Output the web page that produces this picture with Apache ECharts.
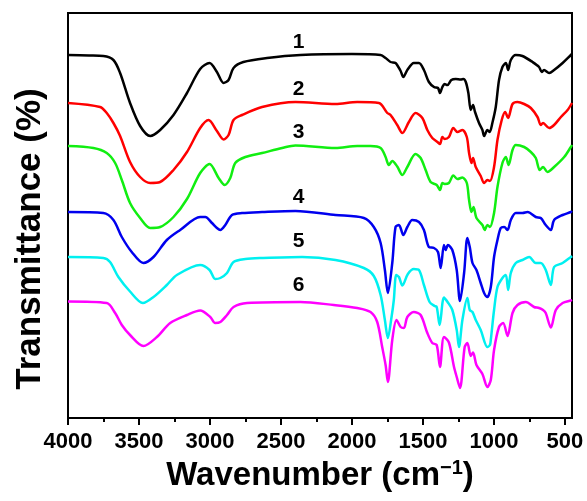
<!DOCTYPE html>
<html><head><meta charset="utf-8">
<script src="https://cdn.jsdelivr.net/npm/echarts@6/dist/echarts.min.js"></script>
<style>html,body{margin:0;padding:0;background:#fff}#c{width:587px;height:501px}</style>
</head><body><div id="c"></div>
<script>
// Tick labels (wavenumber, cm^-1)
const majorTicks = [4000, 3500, 3000, 2500, 2000, 1500, 1000, 500];
const minorTicks = [3750, 3250, 2750, 2250, 1750, 1250, 750];

const curveNames = ['1', '2', '3', '4', '5', '6'];
const curveColors = ['#000000', '#ff0000', '#11ee11', '#0000ee', '#00f0f0', '#ff00ff'];

// [wavenumber, transmittance (a.u., offset)]
const curve1 = [[4000,363],[3852,362.5],[3751,362],[3680,358],[3633,345],[3563,315],[3492,292],[3421,282],[3351,288],[3257,303],[3162,325],[3069,349],[3003,355],[2951,346],[2904,335],[2869,338],[2834,350],[2765,356],[2598,360],[2363,363],[2000,364],[1798,363],[1763,360],[1728,356],[1693,355],[1657,347],[1638,341],[1610,348],[1564,355],[1528,355],[1493,348],[1458,336],[1422,331],[1394,330],[1380,325],[1363,331],[1347,334],[1328,333],[1300,338],[1269,339],[1234,338.5],[1215,339],[1198,336],[1180,325],[1163,308],[1147,313],[1133,306],[1105,295],[1081,288],[1069,282],[1046,288],[1030,286],[1011,295],[987,311],[964,338],[940,351],[916,355],[900,348],[881,358],[846,363],[799,362],[728,356],[682,351],[663,346],[647,348],[611,345],[576,348],[516,355],[458,363],[450,364]];
const curve2 = [[4000,315],[3774,311],[3727,305],[3680,295],[3633,282],[3563,256],[3492,241],[3421,235],[3351,236],[3257,248],[3162,266],[3069,290],[3010,298],[2951,287],[2904,278.5],[2869,283],[2834,298],[2774,303],[2633,311],[2398,316],[2116,314],[1963,316],[1810,315],[1751,305],[1728,303],[1681,293],[1645,285],[1599,296],[1552,305],[1504,300],[1469,288],[1434,280],[1398,276],[1380,274],[1363,281],[1347,279],[1317,281],[1286,290],[1257,286],[1222,288],[1191,281],[1175,265],[1158,255],[1147,260],[1128,251],[1093,242],[1069,235],[1046,238],[1028,237],[999,251],[975,278],[945,298],[921,306],[900,300],[869,314],[834,316],[787,314],[740,310],[693,301],[670,293],[654,295],[611,290],[576,293],[528,301],[481,308],[450,315]];
const curve3 = [[4000,272],[3821,270],[3727,265],[3668,255],[3621,238],[3563,215],[3492,200],[3421,190],[3351,191],[3257,201],[3162,219],[3069,245],[3003,254],[2939,240],[2897,233],[2857,240],[2822,255],[2751,261],[2633,265],[2492,270],[2398,272.5],[2116,270],[1963,272],[1869,272],[1798,270],[1763,261],[1740,253],[1716,257],[1681,251.5],[1645,243],[1610,251],[1552,264],[1516,260],[1481,248],[1446,236],[1403,233],[1380,228],[1363,235],[1347,234],[1317,235],[1286,242.5],[1257,239],[1222,240.5],[1191,235],[1175,218],[1158,206],[1144,211],[1123,200],[1081,193],[1065,188],[1046,193],[1028,191],[999,205],[975,231],[940,255],[916,261],[897,253],[869,268],[846,273],[787,271],[740,266],[705,260],[677,248],[654,251],[623,246],[576,251],[505,261],[458,271],[450,273]];
const curve4 = [[4000,206],[3751,205],[3680,198],[3621,181],[3551,166],[3469,155],[3398,161],[3304,178],[3210,188],[3069,201],[3033,201],[2986,195],[2951,190],[2927,188],[2892,193],[2845,203],[2774,205],[2633,206],[2398,207],[2116,203],[1916,200],[1846,191],[1798,175],[1768,148],[1747,125],[1716,155],[1693,191],[1669,193],[1638,183],[1610,191],[1575,198],[1528,196],[1493,188],[1458,171],[1422,170],[1394,166],[1375,150],[1352,173],[1340,168],[1324,173],[1293,168],[1262,148],[1239,117],[1210,145],[1187,180],[1170,171],[1151,155],[1123,148],[1093,135],[1069,125],[1046,121],[1022,131],[999,161],[975,178],[952,190],[928,191],[904,188],[881,198],[846,205],[799,205],[763,206],[705,201],[670,200],[635,193],[599,188],[576,198],[516,203],[458,206],[450,207]];
const curve5 = [[4000,161],[3751,160],[3704,156],[3645,141],[3563,126.5],[3473,115],[3398,121],[3304,133],[3233,143],[3069,153],[3003,148],[2963,139],[2927,140],[2880,145],[2834,156],[2751,159],[2633,160],[2351,161],[2116,158],[1916,150],[1846,142],[1798,123],[1768,98],[1747,80],[1721,101],[1705,118],[1688,143],[1669,141],[1645,132.5],[1606,144],[1564,149],[1528,148],[1493,133],[1453,116],[1418,112],[1403,111],[1382,93],[1352,120.5],[1324,115.5],[1293,108],[1262,88],[1246,71],[1222,98],[1187,120],[1170,108],[1151,106],[1128,98],[1093,88],[1046,71],[1028,73],[1022,78],[999,108],[975,131],[940,140],[916,143],[900,128],[881,145],[846,155],[799,158],[752,161],[705,155],[670,155],[635,148],[599,133],[576,151],[516,155],[458,161],[450,162]];
const curve6 = [[4000,116.5],[3727,115],[3668,105],[3621,93],[3563,83],[3469,72],[3374,81],[3280,95],[3162,103],[3069,107.5],[2998,101],[2963,95],[2927,96],[2880,103],[2834,111],[2739,115],[2363,116],[2128,113],[1963,110],[1869,106],[1822,96],[1787,71],[1763,53],[1747,36],[1716,78],[1686,98],[1657,91],[1634,90],[1610,101],[1564,106],[1516,103],[1469,85],[1434,75],[1403,73],[1380,51],[1352,81],[1317,75.5],[1281,51],[1262,41],[1239,30],[1206,71],[1187,75],[1163,62],[1147,65.5],[1123,53],[1081,44],[1046,31],[1022,38],[999,68],[964,91],[935,95],[904,82],[869,105],[834,113],[775,116],[717,111],[682,110],[654,108],[635,105],[599,90.5],[564,108],[516,115],[458,117.5],[450,118]];
const curves = [curve1, curve2, curve3, curve4, curve5, curve6];

// curve number labels
const labelWavenumber = 2375;
const labelLevels = [376, 329, 285.5, 220.5, 176.5, 132.5];

const FONT = "'Liberation Sans', Arial, Helvetica, sans-serif";
const chart = echarts.init(document.getElementById('c'), null, {renderer: 'canvas'});

const series = curves.map((d, i) => ({
  type: 'line', name: curveNames[i], data: d, showSymbol: false, symbol: 'none',
  smooth: 0.3,
  lineStyle: {color: curveColors[i], width: 2.5}, itemStyle: {color: curveColors[i]},
  z: 10 - i, animation: false
}));
series.push({
  type: 'scatter', symbolSize: 0, silent: true, animation: false, z: 20,
  itemStyle: {opacity: 1},
  data: labelLevels.map((v, i) => [labelWavenumber, v, curveNames[i]]),
  label: {show: true, position: 'inside', formatter: p => p.data[2], opacity: 1,
    fontFamily: FONT, fontWeight: 'bold', fontSize: 21, color: '#000', textBorderWidth: 0}
});

const xCommon = {type: 'value', min: 450, max: 4000, inverse: true, gridIndex: 0,
  splitLine: {show: false}};

chart.setOption({
  animation: false,
  backgroundColor: '#fff',
  grid: {left: 68, right: 15, top: 13, bottom: 83, show: true, borderColor: '#000', borderWidth: 2, backgroundColor: 'transparent'},
  xAxis: [
    Object.assign({}, xCommon, {
      name: 'Wavenumber (cm{sup|\u22121})', nameLocation: 'middle', nameGap: 40,
      nameTextStyle: {fontFamily: FONT, fontWeight: 'bold', fontSize: 33, color: '#000',
        rich: {sup: {fontFamily: FONT, fontWeight: 'bold', fontSize: 20, color: '#000', padding: [0, 0, 16, 0]}}},
      axisLine: {show: true, onZero: false, lineStyle: {color: '#000', width: 2}},
      axisTick: {show: true, inside: false, length: 7, lineStyle: {color: '#000', width: 2}, customValues: majorTicks},
      axisLabel: {show: true, margin: 13, fontFamily: FONT, fontWeight: 'bold', fontSize: 22, color: '#000',
        customValues: majorTicks, formatter: v => String(v)}
    }),
    Object.assign({}, xCommon, {
      position: 'bottom',
      axisLine: {show: false},
      axisTick: {show: true, inside: false, length: 4, lineStyle: {color: '#000', width: 2}, customValues: minorTicks},
      axisLabel: {show: false}
    })
  ],
  yAxis: {
    type: 'value', min: 0, max: 405,
    axisLine: {show: true, onZero: false, lineStyle: {color: '#000', width: 2}},
    axisTick: {show: false}, axisLabel: {show: false}, splitLine: {show: false}
  },
  graphic: [{
    type: 'text', x: 30, y: 239, rotation: Math.PI / 2,
    style: {text: 'Transmittance (%)', fontFamily: FONT, fontWeight: 'bold', fontSize: 35, fill: '#000',
      align: 'center', verticalAlign: 'middle'}
  }],
  series: series
});
</script></body></html>
